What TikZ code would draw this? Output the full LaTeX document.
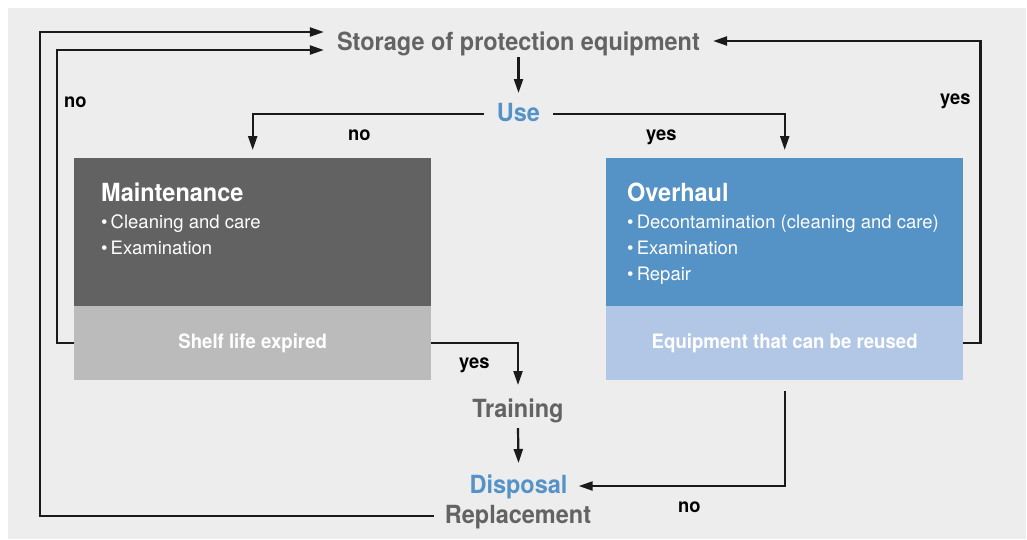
\documentclass[tikz,border=0pt]{standalone}
\usepackage{fontspec}
\setmainfont{TeX Gyre Heros}
\newfontfamily\headfont{TeX Gyre Heros}[FakeStretch=0.94]
\usetikzlibrary{arrows.meta}
\definecolor{bggrey}{HTML}{EDEDED}
\definecolor{txtgrey}{HTML}{636363}
\definecolor{useblue}{HTML}{5592C8}
\definecolor{darkbox}{HTML}{626262}
\definecolor{lightbox}{HTML}{BBBBBB}
\definecolor{bluebox}{HTML}{5592C6}
\definecolor{paleblue}{HTML}{B1C7E5}
\definecolor{linecol}{HTML}{1A1A1A}
\begin{document}
\begin{tikzpicture}[x=1pt,y=-1pt,
 head/.style={font=\headfont\fontsize{25}{30}\selectfont\bfseries, text=txtgrey, inner ysep=0pt, inner xsep=13pt, anchor=base},
 bluehead/.style={head, text=useblue},
 lbl/.style={font=\headfont\fontsize{19.5}{23}\selectfont\bfseries, text=black, inner sep=0pt, anchor=base west},
 box/.style={draw=none, inner sep=0pt, minimum width=357pt, anchor=north west},
 boxtitle/.style={font=\headfont\fontsize{25}{30}\selectfont\bfseries, text=white, inner sep=0pt, anchor=base west},
 item/.style={font=\fontsize{18.5}{22}\selectfont, text=white, inner sep=0pt, anchor=base west},
 boxfoot/.style={font=\headfont\fontsize{19.8}{23}\selectfont\bfseries, text=white},
 arr/.style={draw=linecol, line width=2.2pt, -{Triangle[length=14pt,width=9pt]}}
]
\useasboundingbox (0,0) rectangle (1027,539);
\fill[white] (0,0) rectangle (1027,539);
\fill[bggrey] (8,8) rectangle (1026,539);

% boxes
\node[box, fill=darkbox, minimum height=148pt] (maint) at (74,158) {};
\node[box, fill=lightbox, minimum height=74pt, boxfoot] (shelf) at (74,306) {Shelf life expired};
\node[box, fill=bluebox, minimum height=148pt] (over) at (606,158) {};
\node[box, fill=paleblue, minimum height=74pt, boxfoot] (reuse) at (606,306) {Equipment that can be reused};

\node[boxtitle] (mtitle) at (101,201) {Maintenance};
\node[item] (m1) at (101,228) {\textbullet\,Cleaning and care};
\node[item] (m2) at (101,254) {\textbullet\,Examination};

\node[boxtitle] (otitle) at (627,201) {Overhaul};
\node[item] (o1) at (627,228) {\textbullet\,Decontamination (cleaning and care)};
\node[item] (o2) at (627,254) {\textbullet\,Examination};
\node[item] (o3) at (627,280) {\textbullet\,Repair};

% text nodes
\node[head] (storage) at (518.5,50) {Storage of protection equipment};
\node[bluehead] (use) at (518.5,121) {Use};
\node[head, inner xsep=11pt] (training) at (518,417) {Training};
\node[bluehead, inner xsep=11pt] (disposal) at (518.5,493) {Disposal};
\node[head, inner xsep=11pt] (replacement) at (518,523) {Replacement};

% labels
\node[lbl] (lno1) at (64,107) {no};
\node[lbl] (lno2) at (348,140) {no};
\node[lbl] (lyes1) at (646,140) {yes};
\node[lbl] (lyes2) at (940,104) {yes};
\node[lbl] (lyes3) at (459,368) {yes};
\node[lbl] (lno3) at (678,512) {no};

% connectors
\draw[arr] ([yshift=-7pt]storage.base) -- ([yshift=28pt]use.base);
\draw[arr] ([yshift=7pt]use.base west) -| ([yshift=8pt]maint.north);
\draw[arr] ([yshift=7pt]use.base east) -| ([yshift=8pt]over.north);
\draw[arr] (shelf.west) -- ++(-17,0) |- (storage.base west);
\draw[arr] ([yshift=7pt]replacement.base west) -- ++(-394,0) |- ([yshift=18pt]storage.base west);
\draw[arr] (reuse.east) -- ++(17,0) |- ([yshift=9pt]storage.base east);
\draw[arr] (shelf.east) -| ([yshift=32pt]training.base);
\draw[arr] ([yshift=-11pt]training.base) -- ([yshift=30pt]disposal.base);
\draw[arr] ([yshift=-11pt]reuse.south) |- ([yshift=7pt]disposal.base east);
\end{tikzpicture}
\end{document}
